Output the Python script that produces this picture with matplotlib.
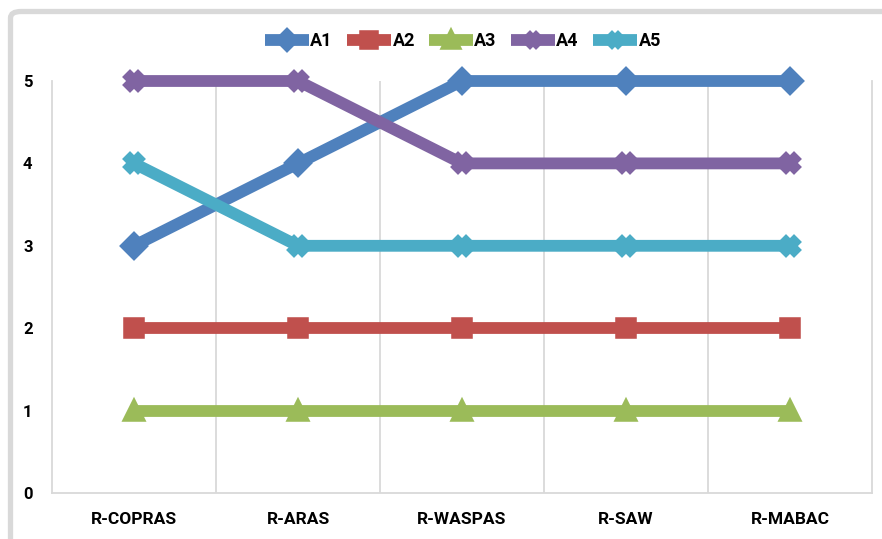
import matplotlib
matplotlib.use("Agg")
import matplotlib.pyplot as plt
from matplotlib.patches import FancyBboxPatch
from matplotlib.ticker import FixedLocator
import numpy as np

categories = ["R-COPRAS", "R-ARAS", "R-WASPAS", "R-SAW", "R-MABAC"]
series_names = ["A1", "A2", "A3", "A4", "A5"]
A1 = [3, 4, 5, 5, 5]
A2 = [2, 2, 2, 2, 2]
A3 = [1, 1, 1, 1, 1]
A4 = [5, 5, 4, 4, 4]
A5 = [4, 3, 3, 3, 3]
values = [A1, A2, A3, A4, A5]
colors = ["#4F81BD", "#C0504D", "#9BBB59", "#8064A2", "#4BACC6"]
markers = ["D", "s", "^", "X", "X"]
msizes = [11, 12, 12, 11, 11]
yticks = [0, 1, 2, 3, 4, 5]

plt.rcParams['font.family'] = ['Roboto', 'DejaVu Sans']

W, H = 882, 539
fig = plt.figure(figsize=(W / 100, H / 100), dpi=100)

# outer frame (top and left visible)
frame = FancyBboxPatch((10.5 / W, -0.2), 1.2, (1 - 11.5 / H) + 0.2,
                       boxstyle="round,pad=0,rounding_size=0.012",
                       transform=fig.transFigure, facecolor="none",
                       edgecolor="#D9D9D9", linewidth=3.8, clip_on=False)
fig.patches.append(frame)

ax = fig.add_axes([52 / W, 1 - 493 / H, (872 - 52) / W, (493 - 81) / H])
x = np.arange(len(categories))

for name, vals, c, m, ms in zip(series_names, values, colors, markers, msizes):
    ax.plot(x, vals, color=c, lw=8.5, marker=m, markersize=ms,
            markerfacecolor=c, markeredgecolor=c, markeredgewidth=4,
            solid_joinstyle="round", solid_capstyle="butt",
            clip_on=False, label=name, zorder=3)

ax.set_xlim(-0.5, len(categories) - 0.5)
ax.set_ylim(0, 5)
ax.set_yticks(yticks)
ax.set_yticklabels([str(v) for v in yticks], fontsize=12, fontweight="bold")
ax.set_xticks(x)
ax.set_xticklabels(categories, fontsize=12.5, fontweight="bold")
ax.xaxis.set_minor_locator(FixedLocator(np.arange(0.5, len(categories) - 0.5, 1)))
ax.grid(which="minor", axis="x", color="#D9D9D9", lw=1.3)
ax.tick_params(axis="both", which="both", length=0)
ax.tick_params(axis="x", pad=14)
ax.tick_params(axis="y", pad=14)
for s in ["left", "bottom", "right"]:
    ax.spines[s].set_color("#D9D9D9")
    ax.spines[s].set_linewidth(1.3)
ax.spines["top"].set_visible(False)

leg = ax.legend(loc="center", bbox_to_anchor=(463 / W, 1 - 41 / H),
                bbox_transform=fig.transFigure, ncol=5, frameon=False,
                prop={"weight": "bold", "size": 13}, handlelength=2.4,
                handletextpad=0.1, columnspacing=0.8, markerscale=0.85)

fig.savefig("out.png", dpi=100)
